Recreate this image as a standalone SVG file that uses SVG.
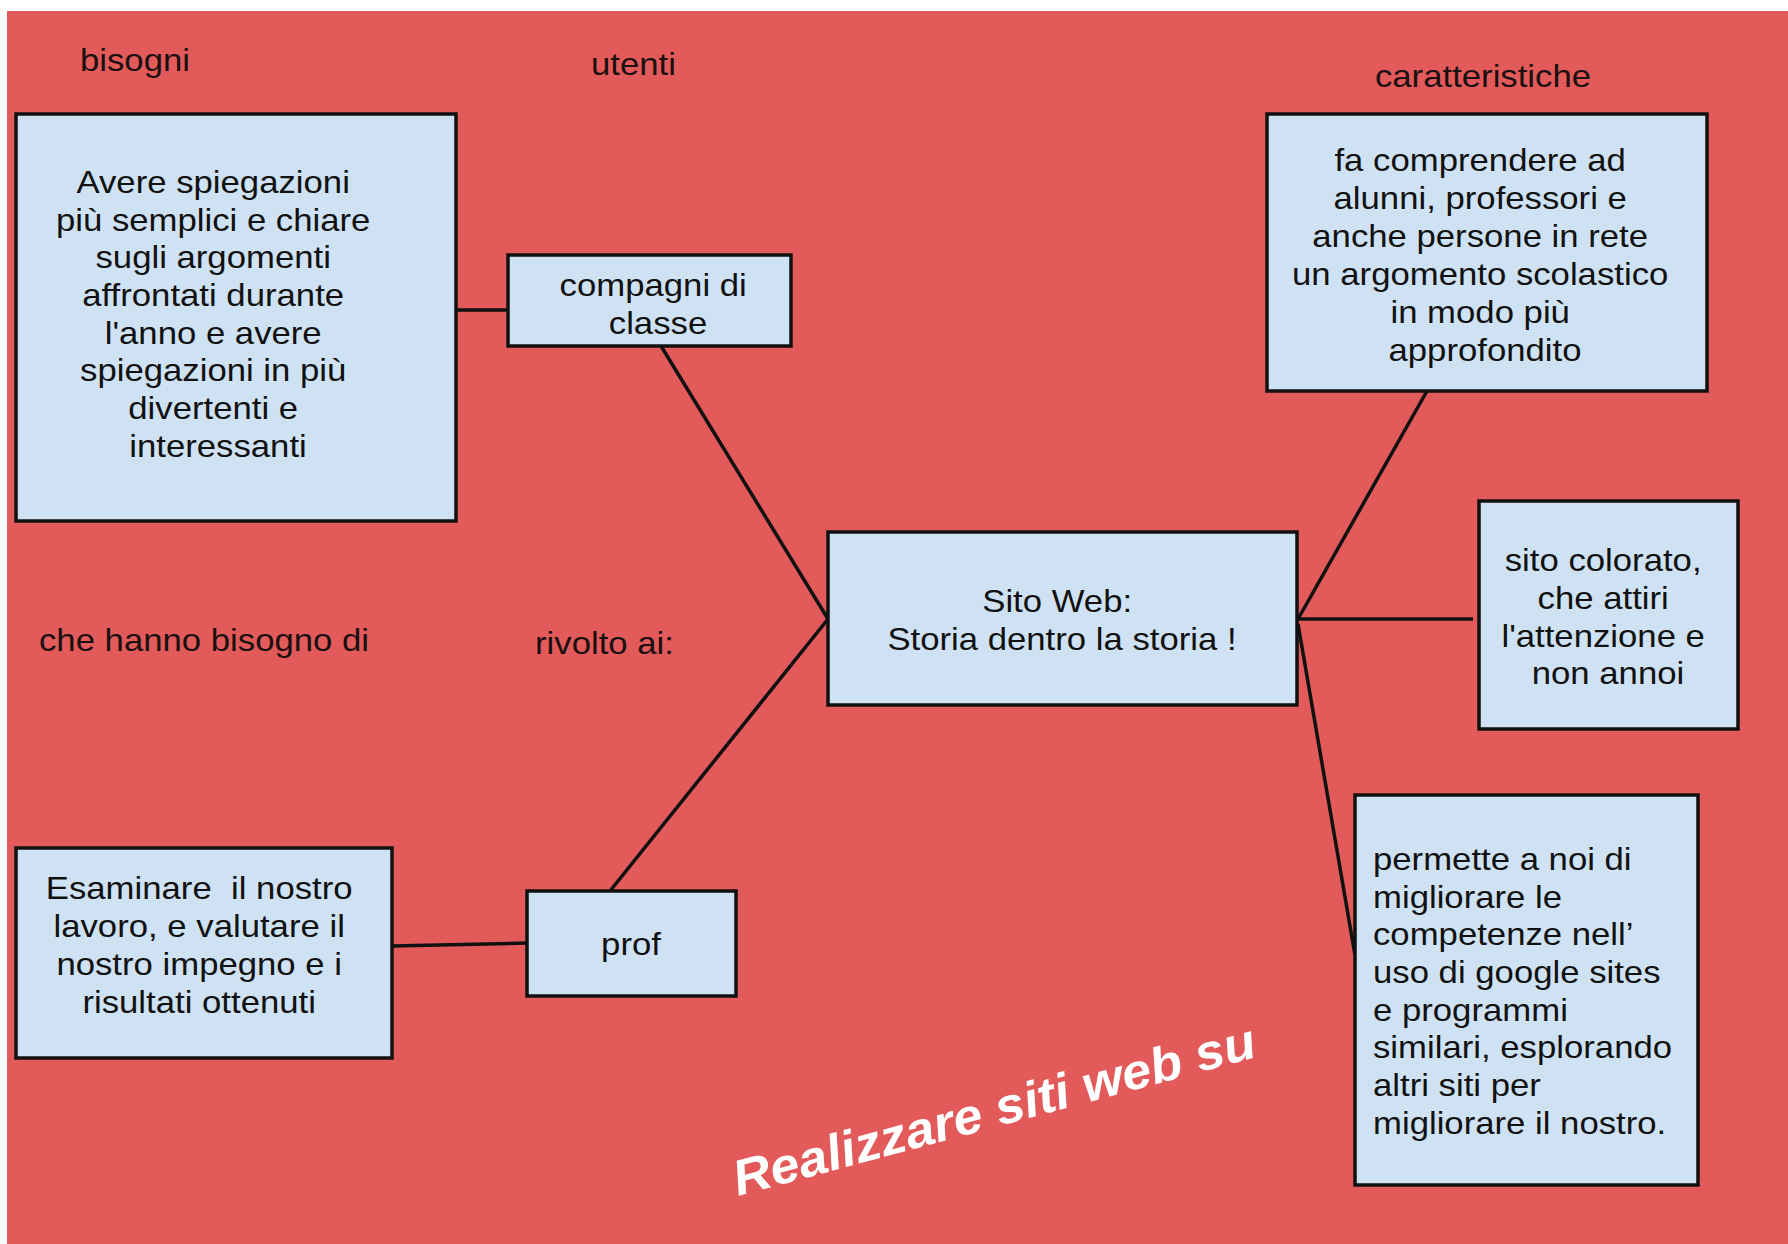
<svg xmlns="http://www.w3.org/2000/svg" width="1788" height="1244" viewBox="0 0 1788 1244">
<style>
.box{fill:#cfe2f3;stroke:#111;stroke-width:3.5}
.ln{stroke:#111;stroke-width:3.5;fill:none}
.t{font-family:"Liberation Sans",Arial,sans-serif;font-size:31px;fill:#111}
.c{text-anchor:middle}
.lab{font-family:"Liberation Sans",Arial,sans-serif;font-size:31px;fill:#1a1010}
</style>
<rect x="0" y="0" width="1788" height="1244" fill="#ffffff"/>
<rect x="7" y="11" width="1781" height="1233" fill="#e25a5a"/>
<g id="connectors">
<line class="ln" x1="456" y1="310" x2="508" y2="310"/>
<line class="ln" x1="661" y1="346" x2="828" y2="619"/>
<line class="ln" x1="610" y1="891" x2="828" y2="619"/>
<line class="ln" x1="392" y1="946" x2="527" y2="943"/>
<line class="ln" x1="1298" y1="619" x2="1427" y2="391"/>
<line class="ln" x1="1298" y1="619" x2="1473" y2="619"/>
<line class="ln" x1="1298" y1="624" x2="1355" y2="955"/>
</g>
<g id="label-bisogni"><text class="lab" transform="translate(80,0) scale(1.12,1)" x="0" y="71">bisogni</text></g>
<g id="label-utenti"><text class="lab" transform="translate(591,0) scale(1.12,1)" x="0" y="75">utenti</text></g>
<g id="label-caratteristiche"><text class="lab c" transform="translate(1483,0) scale(1.12,1)" x="0" y="87">caratteristiche</text></g>
<g id="label-che-hanno"><text class="lab" transform="translate(39,0) scale(1.12,1)" x="0" y="651">che hanno bisogno di</text></g>
<g id="label-rivolto"><text class="lab" transform="translate(535,0) scale(1.12,1)" x="0" y="654">rivolto ai:</text></g>
<g id="node-bisogni-classe">
<rect class="box" x="16" y="114" width="440" height="407"/>
<text class="t c" transform="translate(218,0) scale(1.12,1)">
<tspan x="0" y="193">Avere spiegazioni</tspan>
<tspan x="0" y="231">più semplici e chiare</tspan>
<tspan x="0" y="268">sugli argomenti</tspan>
<tspan x="0" y="306">affrontati durante</tspan>
<tspan x="0" y="344">l'anno e avere</tspan>
<tspan x="0" y="381">spiegazioni in più</tspan>
<tspan x="0" y="419">divertenti e</tspan>
<tspan x="0" y="457">interessanti</tspan>
</text>
</g>
<g id="node-compagni">
<rect class="box" x="508" y="255" width="283" height="91"/>
<text class="t c" transform="translate(658,0) scale(1.12,1)">
<tspan x="0" y="296">compagni di</tspan>
<tspan x="0" y="334">classe</tspan>
</text>
</g>
<g id="node-centro">
<rect class="box" x="828" y="532" width="469" height="173"/>
<text class="t c" transform="translate(1062,0) scale(1.12,1)">
<tspan x="0" y="612">Sito Web:</tspan>
<tspan x="0" y="650">Storia dentro la storia !</tspan>
</text>
</g>
<g id="node-comprendere">
<rect class="box" x="1267" y="114" width="440" height="277"/>
<text class="t c" transform="translate(1485,0) scale(1.12,1)">
<tspan x="0" y="171">fa comprendere ad</tspan>
<tspan x="0" y="209">alunni, professori e</tspan>
<tspan x="0" y="247">anche persone in rete</tspan>
<tspan x="0" y="285">un argomento scolastico</tspan>
<tspan x="0" y="323">in modo più</tspan>
<tspan x="0" y="361">approfondito</tspan>
</text>
</g>
<g id="node-colorato">
<rect class="box" x="1479" y="501" width="259" height="228"/>
<text class="t c" transform="translate(1608,0) scale(1.12,1)">
<tspan x="0" y="571">sito colorato,</tspan>
<tspan x="0" y="609">che attiri</tspan>
<tspan x="0" y="647">l'attenzione e</tspan>
<tspan x="0" y="684">non annoi</tspan>
</text>
</g>
<g id="node-permette">
<rect class="box" x="1355" y="795" width="343" height="390"/>
<text class="t" transform="translate(1373,0) scale(1.12,1)">
<tspan x="0" y="870">permette a noi di</tspan>
<tspan x="0" y="908">migliorare le</tspan>
<tspan x="0" y="945">competenze nell’</tspan>
<tspan x="0" y="983">uso di google sites</tspan>
<tspan x="0" y="1021">e programmi</tspan>
<tspan x="0" y="1058">similari, esplorando</tspan>
<tspan x="0" y="1096">altri siti per</tspan>
<tspan x="0" y="1134">migliorare il nostro.</tspan>
</text>
</g>
<g id="node-esaminare">
<rect class="box" x="16" y="848" width="376" height="210"/>
<text class="t c" transform="translate(204,0) scale(1.12,1)" style="white-space:pre">
<tspan x="0" y="899">Esaminare  il nostro</tspan>
<tspan x="0" y="937">lavoro, e valutare il</tspan>
<tspan x="0" y="975">nostro impegno e i</tspan>
<tspan x="0" y="1013">risultati ottenuti</tspan>
</text>
</g>
<g id="node-prof">
<rect class="box" x="527" y="891" width="209" height="105"/>
<text class="t c" transform="translate(631,0) scale(1.12,1)" x="0" y="955">prof</text>
</g>
<g id="label-realizzare">
<text transform="translate(738,1196) rotate(-15)" x="0" y="0" font-family="'Liberation Sans',Arial,sans-serif" font-size="50" font-weight="bold" font-style="italic" fill="#ffffff" textLength="539" lengthAdjust="spacingAndGlyphs">Realizzare siti web su</text>
</g>
</svg>
